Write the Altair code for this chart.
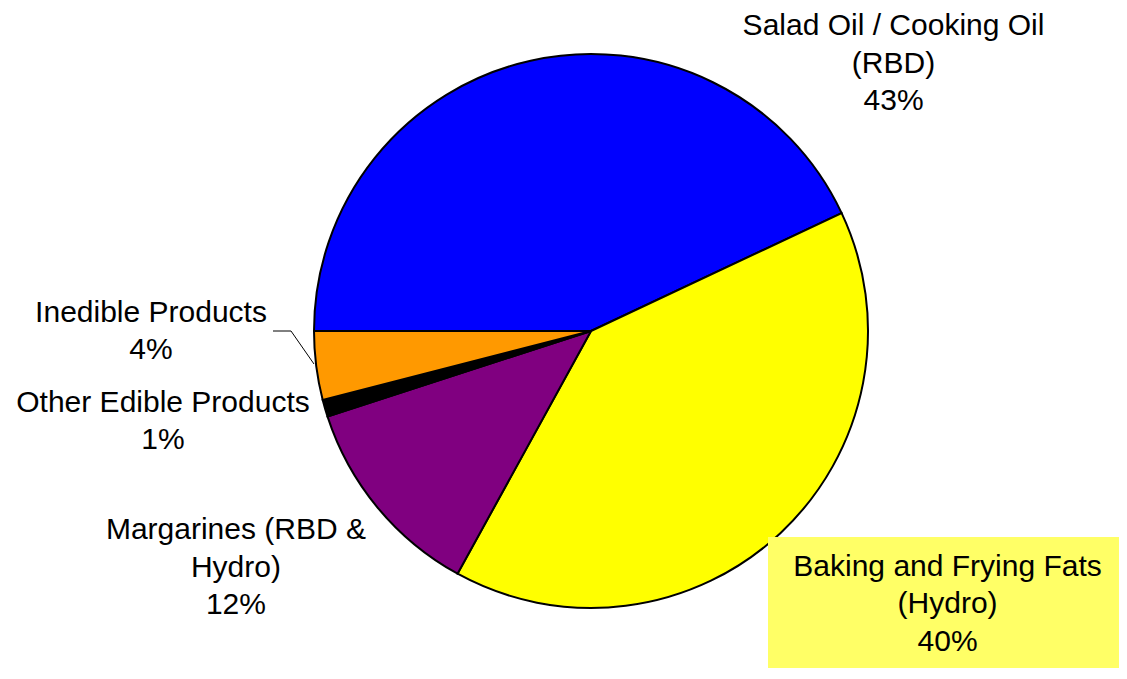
import math
import altair as alt
import pandas as pd

# ---- data ----
categories = [
    "Salad Oil / Cooking Oil",
    "Baking and Frying Fats",
    "Margarines",
    "Other Edible Products",
    "Inedible Products",
]
label_lines = [
    "Salad Oil / Cooking Oil\n(RBD)",
    "Baking and Frying Fats\n(Hydro)",
    "Margarines (RBD &\nHydro)",
    "Other Edible Products",
    "Inedible Products",
]
shares = [43, 40, 12, 1, 4]
colors = ["#0000FF", "#FFFF00", "#800080", "#000000", "#FF9900"]

df = pd.DataFrame({
    "category": categories,
    "label": [f"{l}\n{v}%" for l, v in zip(label_lines, shares)],
    "share": shares,
    "idx": list(range(len(categories))),
})

FONT = "Liberation Sans"
theta_scale = alt.Scale(domain=[0, 100], range=[1.5 * math.pi, 3.5 * math.pi])

base = (
    alt.Chart(df)
    .transform_window(cum="sum(share)", sort=[{"field": "idx"}])
    .transform_calculate(start="datum.cum - datum.share",
                         mid="datum.cum - datum.share / 2")
)

arcs = base.mark_arc(radius=277, stroke="black", strokeWidth=2).encode(
    theta=alt.Theta("start:Q", scale=theta_scale, stack=False),
    theta2="cum:Q",
    color=alt.Color("category:N",
                    scale=alt.Scale(domain=categories, range=colors),
                    legend=None),
)

# label box behind "Baking and Frying Fats"
box = alt.Chart(df).mark_rect(fill="#FFFF66", stroke=None).encode(
    x=alt.value(702), x2=alt.value(1070), y=alt.value(529), y2=alt.value(680)
).transform_filter("datum.idx == 0")

# leader line for "Inedible Products"
lead1 = alt.Chart(df).mark_rule(color="black", strokeWidth=1).encode(
    x=alt.value(207), x2=alt.value(225), y=alt.value(323), y2=alt.value(323)
).transform_filter("datum.idx == 0")
lead2 = alt.Chart(df).mark_rule(color="black", strokeWidth=1).encode(
    x=alt.value(225), x2=alt.value(248), y=alt.value(323), y2=alt.value(356)
).transform_filter("datum.idx == 0")

offsets = {
    "Salad Oil / Cooking Oil": (369.5, 4),
    "Baking and Frying Fats": (146.4, 21.2),
    "Margarines": (-118.5, 12.6),
    "Other Edible Products": (-133.2, -5.0),
    "Inedible Products": (-135.4, -47.8),
}

texts = []
for cat, (ddx, ddy) in offsets.items():
    t = base.transform_filter(alt.datum.category == cat).mark_text(
        radius=307, dx=ddx, dy=ddy, align="center", baseline="alphabetic",
        lineBreak="\n", lineHeight=37.5, font=FONT, fontSize=30, color="black",
    ).encode(
        theta=alt.Theta("mid:Q", scale=theta_scale, stack=False),
        text="label:N",
    )
    texts.append(t)

chart = alt.layer(arcs, box, lead1, lead2, *texts).properties(
    width=1050,
    height=646,
    autosize=alt.AutoSizeParams(type="none"),
    padding={"left": 58, "top": 0, "right": 3, "bottom": 14},
).configure_view(stroke=None)

chart.save("out.html", embed_options={"renderer": "svg", "actions": False})
